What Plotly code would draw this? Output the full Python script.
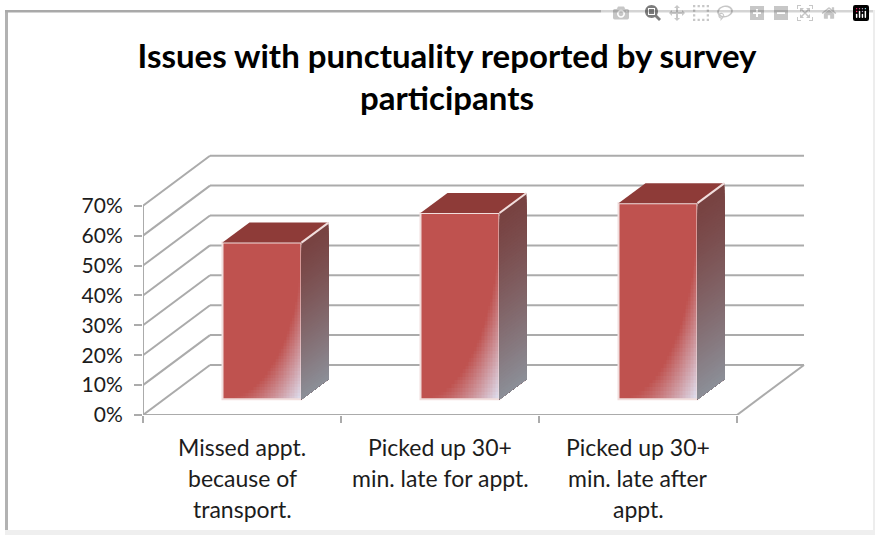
import numpy as np
import plotly.graph_objects as go

# --- data -------------------------------------------------------------
title_text = "Issues with punctuality reported by survey<br>participants"
categories = ["Missed appt.<br>because of<br>transport.",
              "Picked up 30+<br>min. late for appt.",
              "Picked up 30+<br>min. late after<br>appt."]
values = [52.4, 62.3, 65.6]
y_ticks = [0, 10, 20, 30, 40, 50, 60, 70]
y_tick_labels = ["0%", "10%", "20%", "30%", "40%", "50%", "60%", "70%"]

# --- geometry / style -------------------------------------------------
W, H = 875, 535
L, R, T, B = 143, 60, 150, 120
PX_X, PX_Y = 198.0, 2.99           # pixels per category, per percentage point
DX, DY = 67 / PX_X, 50 / PX_Y      # depth of the chart box
BAR_W = 79 / PX_X
BAR_SHIFT = 0.101                  # bar floats inside the depth of the box
BAR_BASE = 15.7 / PX_Y
BAR_DX, BAR_DY = 27 / PX_X, 20 / PX_Y
GRID = "#ABABAB"
EDGE = "#F1DEDD"
FONT = "Lato"
TEXT = "#1c1c1c"
RED = (191, 82, 79)
PALE = (222, 226, 243)
SIDE_TOP = (120, 66, 65)
SIDE_BOT = (140, 143, 152)
N_CATS = len(categories)
centers = [i + 0.5 + BAR_SHIFT for i in range(N_CATS)]

def mix(a, b, t):
    return "rgb(%d,%d,%d)" % tuple(round(a[k] + (b[k] - a[k]) * t) for k in range(3))

fig = go.Figure()
shapes = []

def line(x0, y0, x1, y1, color=GRID, width=2, layer="below"):
    shapes.append(dict(type="line", xref="x", yref="y", x0=x0, y0=y0, x1=x1, y1=y1,
                       line=dict(color=color, width=width), layer=layer))

# walls
for v in y_ticks:
    line(0, v, DX, v + DY)
    line(DX, v + DY, N_CATS + DX, v + DY)
line(0, 0, 0, y_ticks[-1])
line(0, 0, N_CATS, 0)
line(N_CATS, 0, N_CATS + DX, DY)

# bar faces
MAX_R = 2 ** 0.5
scale = [[0, mix(RED, RED, 0)], [1 / MAX_R, mix(RED, RED, 0)], [1, mix(RED, PALE, 1)]]
for c, v in zip(centers, values):
    n = 50
    xe = np.linspace(c - BAR_W / 2, c + BAR_W / 2, n + 1)
    ye = np.linspace(BAR_BASE, BAR_BASE + v, n + 1)
    u = (np.arange(n) + 0.5) / n
    uu, vv = np.meshgrid(u, u)                    # vv: 0 at the top of the face
    z = np.hypot(uu, vv)[::-1]
    fig.add_trace(go.Heatmap(x=xe, y=ye, z=z, zmin=0, zmax=MAX_R, colorscale=scale,
                             showscale=False, hoverinfo="skip"))

    x0, x1 = c - BAR_W / 2, c + BAR_W / 2
    top = BAR_BASE + v
    # side face: painted top to bottom, each band covering everything below it
    steps = 60
    for s in range(steps):
        a = top - v * s / steps
        col = mix(SIDE_TOP, SIDE_BOT, ((s + 0.5) / steps) ** 1.3)
        shapes.append(dict(type="path", xref="x", yref="y", layer="above",
                           path=f"M{x1},{a} L{x1 + BAR_DX},{a + BAR_DY} L{x1 + BAR_DX},{BAR_BASE + BAR_DY} L{x1},{BAR_BASE} Z",
                           fillcolor=col, line=dict(width=0)))
    # top face
    shapes.append(dict(type="path", xref="x", yref="y", layer="above",
                       path=f"M{x0},{top} L{x0 + BAR_DX},{top + BAR_DY} L{x1 + BAR_DX},{top + BAR_DY} L{x1},{top} Z",
                       fillcolor="#8E3B38", line=dict(width=0)))
    line(x1, top, x1 + BAR_DX, top + BAR_DY, EDGE, 2, "above")

# front outline of the bars, from the data
fig.add_trace(go.Bar(x=centers, y=values, base=BAR_BASE, width=BAR_W,
                     marker=dict(color="rgba(0,0,0,0)", line=dict(color=EDGE, width=2)),
                     hoverinfo="skip", showlegend=False))

# page frame
px = lambda p: (p - L) / (W - L - R)
py = lambda p: 1 - (p - T) / (H - T - B)
def frame(x0, y0, x1, y1, color):
    shapes.append(dict(type="rect", xref="paper", yref="paper", layer="below",
                       x0=px(x0), y0=py(y0), x1=px(x1), y1=py(y1),
                       fillcolor=color, line=dict(width=0)))
frame(5, 10, 8, 535, "#B2B2B2")
frame(5, 10, 875, 12.5, "#A9A9A9")
frame(873, 10, 875, 535, "#EDEDED")
frame(5, 530, 875, 535, "#EFEFEF")

# category labels, one annotation per line for the line spacing
annotations = []
for i, cat in enumerate(categories):
    for j, txt in enumerate(cat.split("<br>")):
        annotations.append(dict(x=i + 0.5, xref="x", y=0, yref="y", yanchor="middle",
                                yshift=-(32 + 31 * j), text=txt, showarrow=False,
                                font=dict(family=FONT, size=23, color=TEXT)))

fig.update_layout(
    width=W, height=H, autosize=False,
    margin=dict(l=L, r=R, t=T, b=B),
    paper_bgcolor="white", plot_bgcolor="white",
    showlegend=False, shapes=shapes, annotations=annotations,
    title=dict(text="<b>" + title_text.replace("<br>", "</b><br><b>") + "</b>",
               x=(447) / W, xanchor="center", y=1 - 67.5 / H, yanchor="middle",
               font=dict(family=FONT, size=33, color="black")),
    xaxis=dict(range=[0, (W - L - R) / PX_X], showgrid=False, zeroline=False, showline=False,
               tickvals=[], showticklabels=False,
               minor=dict(tickvals=list(range(N_CATS + 1)), ticks="outside", ticklen=7,
                          tickcolor=GRID, tickwidth=2, showgrid=False)),
    yaxis=dict(range=[0, (H - T - B) / PX_Y], showgrid=False, zeroline=False, showline=False,
               tickvals=y_ticks, ticktext=y_tick_labels, ticks="outside", ticklen=8,
               tickcolor=GRID, tickwidth=2, ticklabelstandoff=7,
               tickfont=dict(family=FONT, size=21, color=TEXT)),
)

fig.write_html("out.html", post_script="document.body.style.margin='0';")
